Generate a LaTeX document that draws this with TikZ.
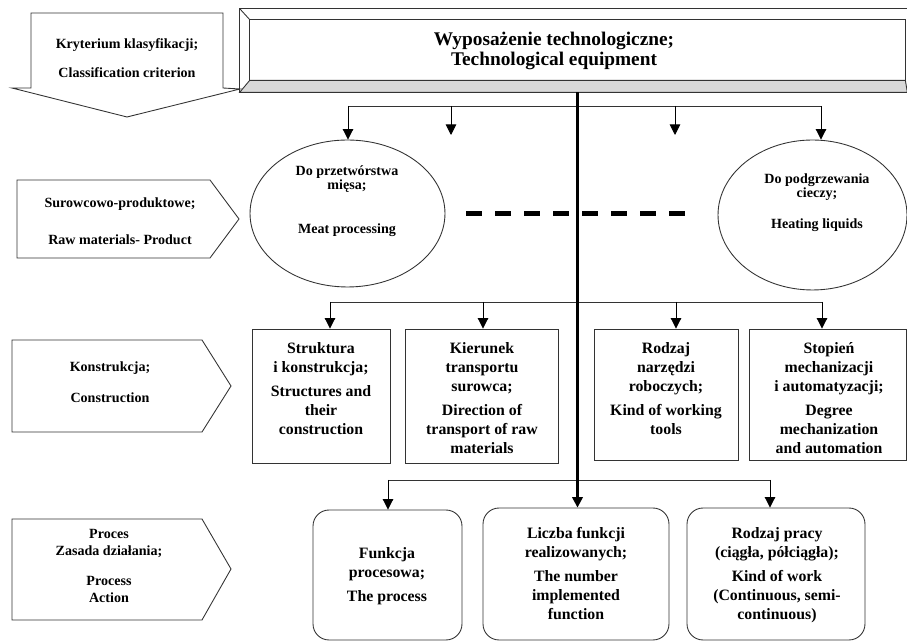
\documentclass[tikz,border=0pt]{standalone}
\usepackage{fontspec}
\setmainfont{Liberation Serif}
\usetikzlibrary{shapes.geometric,arrows.meta,positioning,calc}

\begin{document}
\begin{tikzpicture}[
  x=0.02cm, y=-0.02cm,
  line width=0.5pt, draw=black!80,
  frame/.style={rectangle,draw,inner sep=0pt},
  rbox/.style={rectangle,rounded corners=0.32cm,draw,inner sep=0pt},
  oval/.style={ellipse,draw,inner sep=0pt},
  lbl/.style={draw,line join=miter},
  txt/.style={font=\bfseries\fontsize{9}{10.8}\selectfont,align=center,inner sep=0pt},
  ltxt/.style={font=\bfseries\fontsize{8}{9.4}\selectfont,align=center,inner sep=0pt},
  etxt/.style={font=\bfseries\fontsize{8}{8}\selectfont,align=center,inner sep=0pt},
  ttl/.style={font=\bfseries\fontsize{11}{11.4}\selectfont,align=center,inner sep=0pt},
  arrow/.style={-{Triangle[length=6pt,width=6pt]},draw=black},
  mainline/.style={-{Triangle[length=6pt,width=6pt]},line width=1.3pt,draw=black},
  gapline/.style={line width=2.3pt,draw=black,dash pattern=on 0.32cm off 0.26cm}
]
\useasboundingbox (0,0) rectangle (907,644);

% classification labels on the left
\draw[lbl] (31,13) -- (223,13) -- (223,88) -- (240,89) -- (127,117) -- (12,88) -- (31,88) -- cycle;
\node[ltxt] (crit) at (127,58) {Kryterium klasyfikacji;\\[7.4pt]Classification criterion};
\draw[lbl] (17,180) -- (210,180) -- (239,219) -- (210,258) -- (17,258) -- cycle;
\node[ltxt] (rawLbl) at (120,221) {Surowcowo-produktowe;\\[11.4pt]Raw materials- Product};
\draw[lbl] (12,340) -- (202,340) -- (231,386) -- (202,432) -- (12,432) -- cycle;
\node[ltxt] (consLbl) at (110,382) {Konstrukcja;\\[8.4pt]Construction};
\draw[lbl] (12,519) -- (202,519) -- (231,569) -- (202,620) -- (12,620) -- cycle;
\node[ltxt] (procLbl) at (109,566) {Proces\\Zasada działania;\\[8pt]Process\\Action};

% bevelled title
\path (573.5,50.5) node[minimum width=13.34cm,minimum height=1.66cm,inner sep=0pt] (outer) {}
      (577.5,50) node[minimum width=13.1cm,minimum height=1.2cm,inner sep=0pt] (title) {};
\filldraw[fill=gray!30] (outer.south west) -- (title.south west) -- (title.south east) -- (outer.south east) -- cycle;
\draw (outer.north west) rectangle (outer.south east);
\draw (title.north west) rectangle (title.south east);
\draw (outer.north west) -- (title.north west);
\node[ttl] (titleTxt) at (554,51) {Wyposażenie technologiczne;\\Technological equipment};

% raw material level
\node[oval,minimum width=3.9cm,minimum height=2.94cm] (meat) at (347.5,213.5) {};
\node[oval,minimum width=3.78cm,minimum height=3cm] (heat) at (812.5,215) {};
\node[etxt,anchor=north] (meatTxt) at (347,165) {Do przetwórstwa\\mięsa;\\[17pt]Meat processing};
\node[etxt,anchor=north] (heatTxt) at (817,173) {Do podgrzewania\\cieczy;\\[10pt]Heating liquids};
\draw[gapline,shorten <=0.42cm,shorten >=0.54cm] (meat.east) -- (meat.east -| heat.west);

\coordinate (t1) at (348,106);
\coordinate (t2) at (451,106);
\coordinate (t3) at (675,106);
\coordinate (t4) at (821,106);
\coordinate (t2e) at (451,135);
\coordinate (t3e) at (675,135);
\draw (t1) -- (t4);
\draw[arrow] (t1) -- (t1 |- meat.north);
\draw[arrow] (t4) -- (t4 |- heat.north);
\foreach \s/\t in {t2/t2e,t3/t3e}
  \draw[arrow] (\s) -- (\t);

% construction level
\node[frame,minimum width=2.76cm,minimum height=2.68cm] (struct) at (321,396) {};
\node[frame,minimum width=3.06cm,minimum height=2.68cm] (transp) at (481.5,396) {};
\node[frame,minimum width=2.88cm,minimum height=2.62cm] (tools) at (666,394.5) {};
\node[frame,minimum width=3.14cm,minimum height=2.62cm] (mech) at (827.5,394.5) {};
\node[txt,anchor=north] (structTxt) at (321,342) {Struktura\\i konstrukcja;\\[2.8pt]Structures and\\their\\construction};
\node[txt,anchor=north] (transpTxt) at (482,342) {Kierunek\\transportu\\surowca;\\[2.8pt]Direction of\\transport of raw\\materials};
\node[txt,anchor=north] (toolsTxt) at (666,342) {Rodzaj\\narzędzi\\roboczych;\\[2.8pt]Kind of working\\tools};
\node[txt,anchor=north] (mechTxt) at (829,342) {Stopień\\mechanizacji\\i automatyzacji;\\[2.8pt]Degree\\mechanization\\and automation};

\coordinate (m1) at (330,302);
\coordinate (m2) at (483,302);
\coordinate (m3) at (676,302);
\coordinate (m4) at (822,302);
\draw (m1) -- (m4);
\foreach \c/\n in {m1/struct,m2/transp,m3/tools,m4/mech}
  \draw[arrow] (\c) -- (\c |- \n.north);

% process level
\node[rbox,minimum width=2.98cm,minimum height=2.6cm] (func) at (387.5,575) {};
\node[rbox,minimum width=3.72cm,minimum height=2.64cm] (count) at (576,574) {};
\node[rbox,minimum width=3.56cm,minimum height=2.64cm] (work) at (776,574) {};
\node[txt,anchor=north] (funcTxt) at (387,547) {Funkcja\\procesowa;\\[2.8pt]The process};
\node[txt,anchor=north] (countTxt) at (576,527) {Liczba funkcji\\realizowanych;\\[2.8pt]The number\\implemented\\function};
\node[txt,anchor=north] (workTxt) at (777,527) {Rodzaj pracy\\(ciągła, półciągła);\\[2.8pt]Kind of work\\(Continuous, semi-\\continuous)};

\coordinate (p1) at (388,480);
\coordinate (p3) at (770,480);
\draw (p1) -- (p3);
\draw[arrow] (p1) -- (p1 |- func.north);
\draw[arrow] (p3) -- (p3 |- work.north);

% main trunk
\draw[mainline] (title.south |- outer.south) -- (title.south |- count.north);
\end{tikzpicture}
\end{document}
